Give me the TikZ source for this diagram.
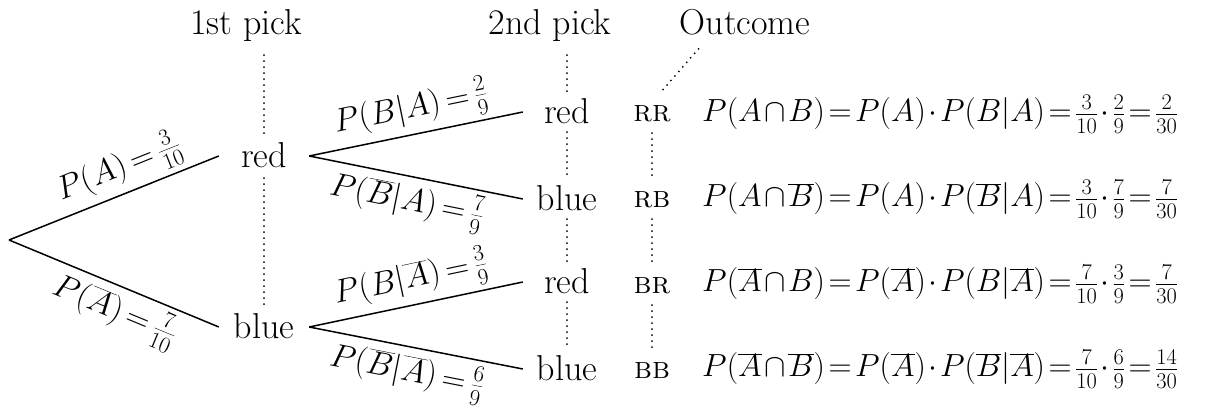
\RequirePackage{fix-cm}
\documentclass[tikz,border=0pt]{standalone}
\usepackage{fontspec}
\newcommand{\tightsp}{\thickmuskip=2mu\relax\medmuskip=1.5mu\relax}
\newcommand{\midsp}{\thickmuskip=3mu\relax\medmuskip=2mu\relax}
\begin{document}
\begin{tikzpicture}[x=1pt,y=-1pt,
  branch/.style={line width=1.5pt},
  dots/.style={line width=2pt, dash pattern=on 0pt off 6pt, line cap=round},
  head/.style={font=\fontsize{36}{42}\selectfont, inner sep=3pt},
  first/.style={font=\fontsize{36}{42}\selectfont, text height=25pt, text depth=2pt, inner ysep=8.5pt, inner xsep=0pt, minimum width=90pt},
  second/.style={font=\fontsize{36}{42}\selectfont, text height=25pt, text depth=2pt, inner ysep=6.5pt, inner xsep=0pt, minimum width=88pt},
  outc/.style={font=\fontsize{31}{36}\selectfont, text height=17pt, text depth=0pt, inner ysep=11.5pt, inner xsep=0pt},
  elbl/.style={font=\fontsize{33}{38}\selectfont, inner sep=5pt},
  formula/.style={font=\fontsize{32}{38}\selectfont, inner sep=0pt}]
\useasboundingbox (0,0) rectangle (1232,411);

\coordinate (root) at (9,240);
\node[head, anchor=base] (p1) at (246,35) {1st pick};
\node[head, anchor=base] (p2) at (550,35) {2nd pick};
\node[head, anchor=base] (oc) at (745,35) {Outcome};

\node[first] (r1) at (264,156) {red};
\node[first] (b1) at (264,327) {blue};

\node[second] (rr2) at (567,112) {red};
\node[second] (rb2) at (567,199) {blue};
\node[second] (br2) at (567,282) {red};
\node[second] (bb2) at (567,369) {blue};

\node[outc] (RR) at (652,113) {\textsc{rr}};
\node[outc] (RB) at (652,199) {\textsc{rb}};
\node[outc] (BR) at (652,285) {\textsc{br}};
\node[outc] (BB) at (652,370) {\textsc{bb}};

\node[formula, anchor=base west] (f1) at (702,122) {$\tightsp P(A\cap B)=P(A)\cdot P(B|A)=\frac{3}{10}\cdot\frac{2}{9}=\frac{2}{30}$};
\node[formula, anchor=base west] (f2) at (702,207) {$\tightsp P(A\cap\overline{B})=P(A)\cdot P(\overline{B}|A)=\frac{3}{10}\cdot\frac{7}{9}=\frac{7}{30}$};
\node[formula, anchor=base west] (f3) at (702,292) {$\tightsp P(\overline{A}\cap B)=P(\overline{A})\cdot P(B|\overline{A})=\frac{7}{10}\cdot\frac{3}{9}=\frac{7}{30}$};
\node[formula, anchor=base west] (f4) at (702,377) {$\tightsp P(\overline{A}\cap\overline{B})=P(\overline{A})\cdot P(\overline{B}|\overline{A})=\frac{7}{10}\cdot\frac{6}{9}=\frac{14}{30}$};

% branches
\draw[branch] (root) -- node[elbl, sloped, above, pos=0.57] {$\midsp P(A)=\frac{3}{10}$} (r1.west);
\draw[branch] (root) -- node[elbl, sloped, below, pos=0.55] {$\midsp P(\overline{A})=\frac{7}{10}$} (b1.west);
\draw[branch] (r1.east) -- node[elbl, sloped, above, pos=0.5] {$\midsp P(B|A)=\frac{2}{9}$} (rr2.west);
\draw[branch] (r1.east) -- node[elbl, sloped, below, pos=0.48] {$\midsp P(\overline{B}|A)=\frac{7}{9}$} (rb2.west);
\draw[branch] (b1.east) -- node[elbl, sloped, above, pos=0.5] {$\midsp P(B|\overline{A})=\frac{3}{9}$} (br2.west);
\draw[branch] (b1.east) -- node[elbl, sloped, below, pos=0.48] {$\midsp P(\overline{B}|\overline{A})=\frac{6}{9}$} (bb2.west);

% dotted guides
\draw[dots] ([yshift=-10pt]r1.north |- p1.south) -- (r1.north);
\draw[dots] (r1.south) -- (b1.north);
\draw[dots] ([yshift=-10pt]rr2.north |- p2.south) -- (rr2.north);
\draw[dots] (rr2.south) -- (rb2.north);
\draw[dots] (rb2.south) -- (br2.north);
\draw[dots] (br2.south) -- (bb2.north);
\draw[dots] (RR.south) -- (RB.north);
\draw[dots] (RB.south) -- (BR.north);
\draw[dots] (BR.south) -- (BB.north);
\draw[dots] ([shift={(22pt,-10pt)}]oc.south west) -- ([shift={(10pt,2pt)}]RR.north);
\end{tikzpicture}
\end{document}
